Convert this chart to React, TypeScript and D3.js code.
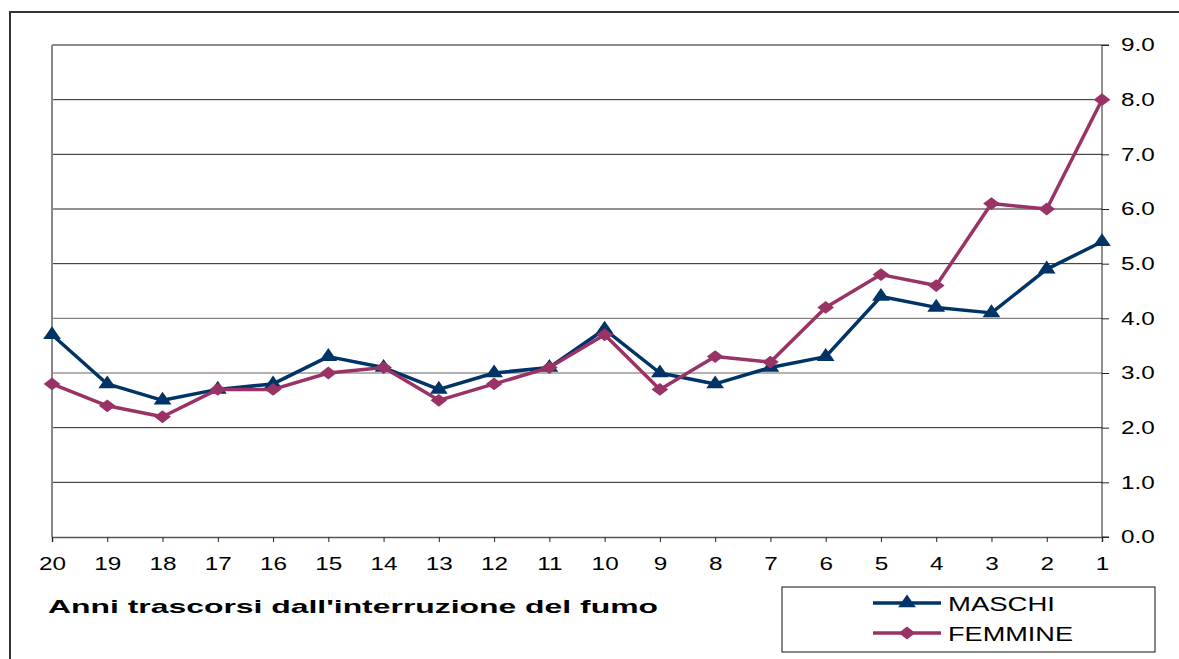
import * as d3 from 'd3';
import React, { useEffect, useRef } from 'react';

const years = ['20', '19', '18', '17', '16', '15', '14', '13', '12', '11', '10', '9', '8', '7', '6', '5', '4', '3', '2', '1'];
const maschi = [3.7, 2.8, 2.5, 2.7, 2.8, 3.3, 3.1, 2.7, 3.0, 3.1, 3.8, 3.0, 2.8, 3.1, 3.3, 4.4, 4.2, 4.1, 4.9, 5.4];
const femmine = [2.8, 2.4, 2.2, 2.7, 2.7, 3.0, 3.1, 2.5, 2.8, 3.1, 3.7, 2.7, 3.3, 3.2, 4.2, 4.8, 4.6, 6.1, 6.0, 8.0];
const yTicks = [0, 1, 2, 3, 4, 5, 6, 7, 8, 9];

const W = 1179;
const H = 659;
const FONT = '"Liberation Sans", Arial, sans-serif';
const STRETCH = 1.35; // the original picture is widened horizontally

function App() {
  const svgRef = useRef<SVGSVGElement>(null);

  useEffect(() => {
    document.body.style.margin = '0';
    const svg = d3.select(svgRef.current);
    svg.selectAll('*').remove();

    const left = 52, right = 1102, top = 45, bottom = 537;

    const x = d3.scalePoint<string>().domain(years).range([left, right]);
    const y = d3.scaleLinear().domain([0, 9]).range([bottom, top]);

    // outer frame
    svg.append('rect')
      .attr('x', 10).attr('y', 12)
      .attr('width', W + 20).attr('height', H + 20)
      .attr('fill', 'white')
      .attr('stroke', '#333').attr('stroke-width', 2);

    // gridlines
    svg.append('g').selectAll('line')
      .data(yTicks.slice(1))
      .join('line')
      .attr('x1', left).attr('x2', right)
      .attr('y1', d => y(d)).attr('y2', d => y(d))
      .attr('stroke', d => (d === 9 || d === 3 || d === 4 ? '#666' : '#222'))
      .attr('stroke-width', d => (d === 9 ? 1.5 : 1));

    // left plot border
    svg.append('line')
      .attr('x1', left).attr('x2', left)
      .attr('y1', top).attr('y2', bottom)
      .attr('stroke', '#888').attr('stroke-width', 2);

    // x axis
    const xAxis = d3.axisBottom(x).tickSize(5).tickPadding(15);
    const gx = svg.append('g').attr('transform', `translate(0,${bottom})`).call(xAxis);
    gx.select('.domain').attr('stroke', '#555').attr('stroke-width', 1.5);
    gx.selectAll('.tick line').attr('stroke', '#222');
    gx.selectAll('.tick text')
      .attr('font-family', FONT).attr('font-size', 18).attr('fill', '#000')
      .attr('transform', `scale(${STRETCH},1)`);

    // y axis on right
    const yAxis = d3.axisRight(y).tickValues(yTicks).tickFormat(d3.format('.1f')).tickSize(7);
    const gy = svg.append('g').attr('transform', `translate(${right},0)`).call(yAxis);
    gy.select('.domain').attr('stroke', '#222').attr('d', `M7,${top}H0V${bottom}H7`);
    gy.selectAll('.tick line').attr('stroke', '#222');
    gy.selectAll('.tick text')
      .attr('font-family', FONT).attr('font-size', 18).attr('fill', '#000')
      .attr('x', 19 / STRETCH)
      .attr('transform', `scale(${STRETCH},1)`);

    const line = d3.line<number>()
      .x((_, i) => x(years[i]) as number)
      .y(d => y(d));

    const tri = d3.symbol().type(d3.symbolTriangle).size(95)() as string;
    const sq = d3.symbol().type(d3.symbolSquare).size(82)() as string;

    const series = [
      { name: 'MASCHI', values: maschi, color: '#003366', path: tri, shape: `scale(1.2,1)`, len: 107 },
      { name: 'FEMMINE', values: femmine, color: '#993366', path: sq, shape: `scale(1.3,1) rotate(45)`, len: 125 },
    ];

    series.forEach(s => {
      svg.append('path')
        .datum(s.values)
        .attr('fill', 'none')
        .attr('stroke', s.color)
        .attr('stroke-width', 3.5)
        .attr('stroke-linejoin', 'round')
        .attr('d', line);
      svg.append('g').selectAll('path')
        .data(s.values)
        .join('path')
        .attr('transform', (d, i) => `translate(${x(years[i])},${y(d)}) ${s.shape}`)
        .attr('d', s.path)
        .attr('fill', s.color);
    });

    // axis title
    svg.append('text')
      .attr('x', 48).attr('y', 613)
      .attr('font-family', FONT).attr('font-size', 19).attr('font-weight', 'bold')
      .attr('textLength', 610).attr('lengthAdjust', 'spacingAndGlyphs')
      .text("Anni trascorsi dall'interruzione del fumo");

    // legend
    svg.append('rect')
      .attr('x', 782).attr('y', 587).attr('width', 373).attr('height', 65)
      .attr('fill', 'white').attr('stroke', '#111').attr('stroke-width', 1);

    series.forEach((s, i) => {
      const ly = 603 + i * 30;
      svg.append('line')
        .attr('x1', 873).attr('x2', 941).attr('y1', ly).attr('y2', ly)
        .attr('stroke', s.color).attr('stroke-width', 3.5);
      svg.append('path')
        .attr('transform', `translate(907,${ly}) ${s.shape}`)
        .attr('d', s.path)
        .attr('fill', s.color);
      svg.append('text')
        .attr('x', 948).attr('y', ly + 8)
        .attr('font-family', FONT).attr('font-size', 21).attr('fill', '#000')
        .attr('textLength', s.len).attr('lengthAdjust', 'spacingAndGlyphs')
        .text(s.name);
    });
  }, []);

  return <svg ref={svgRef} width={W} height={H} style={{ display: 'block' }} />;
}

export default App;
